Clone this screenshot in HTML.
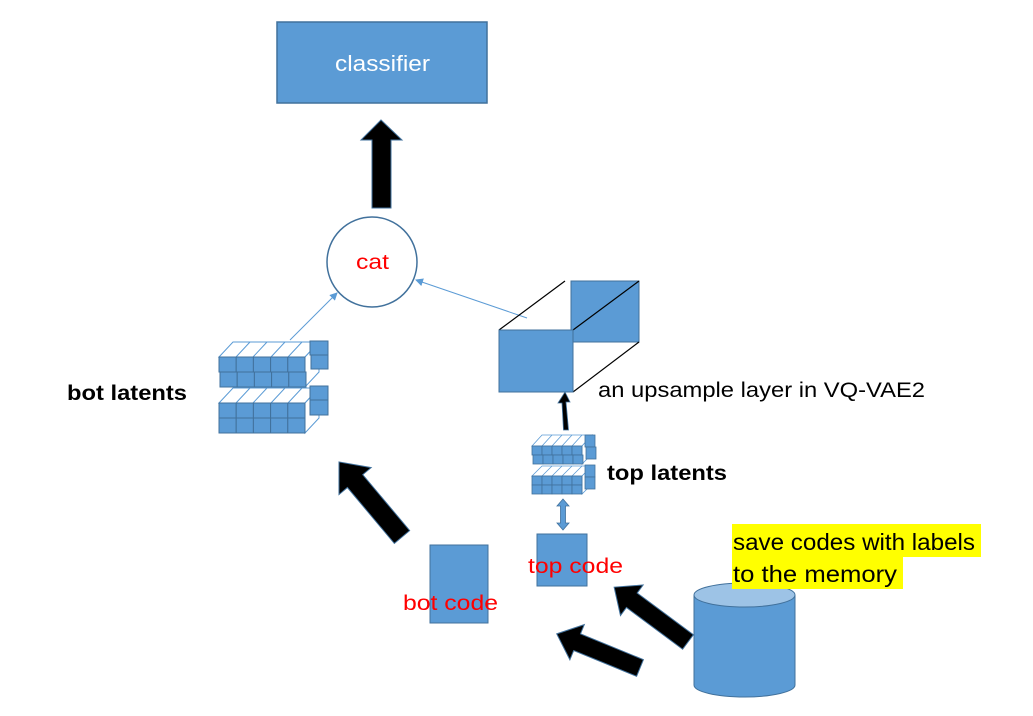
<!DOCTYPE html>
<html><head><style>
html,body{margin:0;padding:0;background:#fff;}
svg{display:block;}
text{font-family:"Liberation Sans","DejaVu Sans",sans-serif;}
</style></head><body>
<svg width="1033" height="716" viewBox="0 0 1033 716" xmlns="http://www.w3.org/2000/svg">
<defs>
<marker id="ah" markerWidth="8" markerHeight="8" refX="7" refY="4" orient="auto" markerUnits="userSpaceOnUse"><path d="M0,0 L8,4 L0,8 z" fill="#5b9bd5"/></marker>
</defs>
<!-- classifier -->
<rect x="277" y="22" width="210" height="81" fill="#5b9bd5" stroke="#41719c" stroke-width="1.5"/>
<text x="335" y="71" font-size="22" fill="#fff" textLength="95" lengthAdjust="spacingAndGlyphs">classifier</text>
<!-- up arrow -->
<polygon points="372,208 391,208 391,140 402,140 381,120 361,140 372,140" fill="#000" stroke="#41719c" stroke-width="1"/>
<!-- cat circle -->
<circle cx="372" cy="262" r="45" fill="#fff" stroke="#41719c" stroke-width="1.5"/>
<text x="356" y="269" font-size="21" fill="#ff0000" textLength="33" lengthAdjust="spacingAndGlyphs">cat</text>
<!-- thin arrows -->
<line x1="290" y1="340" x2="337" y2="293" stroke="#5b9bd5" stroke-width="1" marker-end="url(#ah)"/>
<line x1="527" y1="318" x2="416" y2="280" stroke="#5b9bd5" stroke-width="1" marker-end="url(#ah)"/>

<!-- bot latents upper group -->
<g stroke="#41719c" stroke-width="1">
<polygon points="219,357 233,342 319,342 305,357" fill="#fff" stroke="#5b9bd5"/>
<g stroke="#5b9bd5"><line x1="236" y1="357" x2="250" y2="342"/><line x1="253" y1="357" x2="267" y2="342"/><line x1="271" y1="357" x2="285" y2="342"/><line x1="288" y1="357" x2="302" y2="342"/></g>
<polygon points="305,357 319,342 319,372 305,387" fill="#fff" stroke="#5b9bd5"/>
<rect x="310" y="341" width="18" height="14" fill="#5b9bd5"/>
<rect x="311" y="355" width="17" height="14" fill="#5b9bd5"/>
<g fill="#5b9bd5">
<rect x="219" y="357" width="17.2" height="15"/><rect x="236.2" y="357" width="17.2" height="15"/><rect x="253.4" y="357" width="17.2" height="15"/><rect x="270.6" y="357" width="17.2" height="15"/><rect x="287.8" y="357" width="17.2" height="15"/>
<rect x="220" y="372" width="17.2" height="15"/><rect x="237.2" y="372" width="17.2" height="15"/><rect x="254.4" y="372" width="17.2" height="15"/><rect x="271.6" y="372" width="17.2" height="15"/><rect x="288.8" y="372" width="17.2" height="15"/>
</g>
<!-- lower group -->
<polygon points="219,403 233,388 319,388 305,403" fill="#fff" stroke="#5b9bd5"/>
<g stroke="#5b9bd5"><line x1="236" y1="403" x2="250" y2="388"/><line x1="253" y1="403" x2="267" y2="388"/><line x1="271" y1="403" x2="285" y2="388"/><line x1="288" y1="403" x2="302" y2="388"/></g>
<polygon points="305,403 319,388 319,418 305,433" fill="#fff" stroke="#5b9bd5"/>
<rect x="310" y="386" width="18" height="14" fill="#5b9bd5"/>
<rect x="310" y="400" width="18" height="15" fill="#5b9bd5"/>
<g fill="#5b9bd5">
<rect x="219" y="403" width="17.2" height="15"/><rect x="236.2" y="403" width="17.2" height="15"/><rect x="253.4" y="403" width="17.2" height="15"/><rect x="270.6" y="403" width="17.2" height="15"/><rect x="287.8" y="403" width="17.2" height="15"/>
<rect x="219" y="418" width="17.2" height="15"/><rect x="236.2" y="418" width="17.2" height="15"/><rect x="253.4" y="418" width="17.2" height="15"/><rect x="270.6" y="418" width="17.2" height="15"/><rect x="287.8" y="418" width="17.2" height="15"/>
</g>
</g>
<text x="67" y="400" font-size="21" font-weight="bold" fill="#000" textLength="120" lengthAdjust="spacingAndGlyphs">bot latents</text>

<!-- upsample layer -->
<rect x="571" y="281" width="68" height="61" fill="#5b9bd5" stroke="#41719c" stroke-width="1"/>
<g stroke="#000" stroke-width="1.2">
<line x1="499" y1="330" x2="565" y2="281"/>
<line x1="573" y1="330" x2="639" y2="281"/>
<line x1="573" y1="392" x2="639" y2="342"/>
</g>
<rect x="499" y="330" width="74" height="62" fill="#5b9bd5" stroke="#41719c" stroke-width="1"/>
<text x="598" y="397" font-size="21" fill="#000" textLength="327" lengthAdjust="spacingAndGlyphs">an upsample layer in VQ-VAE2</text>
<!-- small black arrow -->
<polygon points="563.5,430 568.5,430 566,402 570,402 565,392 558,403 562,403" fill="#000" stroke="#41719c" stroke-width="0.8"/>

<!-- top latents -->
<g stroke="#41719c" stroke-width="0.8">
<polygon points="532,446 542,435 592,435 582,446" fill="#fff" stroke="#5b9bd5"/>
<g stroke="#5b9bd5"><line x1="542" y1="446" x2="552" y2="435"/><line x1="552" y1="446" x2="562" y2="435"/><line x1="562" y1="446" x2="572" y2="435"/><line x1="572" y1="446" x2="582" y2="435"/></g>
<polygon points="582,446 592,435 592,454 582,464" fill="#fff" stroke="#5b9bd5"/>
<rect x="585" y="435" width="10" height="12" fill="#5b9bd5"/>
<rect x="586" y="447" width="10" height="12" fill="#5b9bd5"/>
<g fill="#5b9bd5">
<rect x="532" y="446" width="10" height="9"/><rect x="542" y="446" width="10" height="9"/><rect x="552" y="446" width="10" height="9"/><rect x="562" y="446" width="10" height="9"/><rect x="572" y="446" width="10" height="9"/>
<rect x="533" y="455" width="10" height="9"/><rect x="543" y="455" width="10" height="9"/><rect x="553" y="455" width="10" height="9"/><rect x="563" y="455" width="10" height="9"/><rect x="573" y="455" width="10" height="9"/>
</g>
<polygon points="532,476 542,466 592,466 582,476" fill="#fff" stroke="#5b9bd5"/>
<g stroke="#5b9bd5"><line x1="542" y1="476" x2="552" y2="466"/><line x1="552" y1="476" x2="562" y2="466"/><line x1="562" y1="476" x2="572" y2="466"/><line x1="572" y1="476" x2="582" y2="466"/></g>
<polygon points="582,476 592,466 592,484 582,494" fill="#fff" stroke="#5b9bd5"/>
<rect x="585" y="465" width="10" height="12" fill="#5b9bd5"/>
<rect x="585" y="477" width="10" height="12" fill="#5b9bd5"/>
<g fill="#5b9bd5">
<rect x="532" y="476" width="10" height="9"/><rect x="542" y="476" width="10" height="9"/><rect x="552" y="476" width="10" height="9"/><rect x="562" y="476" width="10" height="9"/><rect x="572" y="476" width="10" height="9"/>
<rect x="532" y="485" width="10" height="9"/><rect x="542" y="485" width="10" height="9"/><rect x="552" y="485" width="10" height="9"/><rect x="562" y="485" width="10" height="9"/><rect x="572" y="485" width="10" height="9"/>
</g>
</g>
<text x="607" y="480" font-size="21" font-weight="bold" fill="#000" textLength="120" lengthAdjust="spacingAndGlyphs">top latents</text>

<!-- double arrow -->
<polygon points="563,499 569,506 565.5,506 565.5,523 569,523 563,530 557,523 560.5,523 560.5,506 557,506" fill="#5b9bd5" stroke="#41719c" stroke-width="0.8"/>

<!-- code boxes -->
<rect x="537" y="534" width="50" height="52" fill="#5b9bd5" stroke="#41719c" stroke-width="1"/>
<text x="528" y="573" font-size="21" fill="#ff0000" textLength="95" lengthAdjust="spacingAndGlyphs">top code</text>
<rect x="430" y="545" width="58" height="78" fill="#5b9bd5" stroke="#41719c" stroke-width="1"/>
<text x="403" y="610" font-size="21" fill="#ff0000" textLength="95" lengthAdjust="spacingAndGlyphs">bot code</text>

<!-- black block arrows -->
<polygon transform="translate(402,537) rotate(-130)" points="0,-10 73,-10 73,-21 98,0 73,21 73,10 0,10" fill="#000" stroke="#41719c" stroke-width="1"/>
<polygon transform="translate(688,642) rotate(-143.4)" points="0,-9 70,-9 70,-19 92,0 70,19 70,9 0,9" fill="#000" stroke="#41719c" stroke-width="1"/>
<polygon transform="translate(640,668) rotate(-157.7)" points="0,-9 68,-9 68,-19 90,0 68,19 68,9 0,9" fill="#000" stroke="#41719c" stroke-width="1"/>

<!-- cylinder -->
<path d="M694,595 L694,685 A50.5,12 0 0 0 795,685 L795,595" fill="#5b9bd5" stroke="#41719c" stroke-width="1"/>
<ellipse cx="744.5" cy="595" rx="50.5" ry="12" fill="#9dc3e6" stroke="#41719c" stroke-width="1"/>

<!-- highlighted text -->
<rect x="732" y="524" width="249" height="33" fill="#ffff00"/>
<rect x="732" y="557" width="171" height="32" fill="#ffff00"/>
<text x="733" y="550" font-size="23" fill="#000" textLength="242" lengthAdjust="spacingAndGlyphs">save codes with labels</text>
<text x="733" y="582" font-size="23" fill="#000" textLength="164" lengthAdjust="spacingAndGlyphs">to the memory</text>
</svg>
</body></html>
